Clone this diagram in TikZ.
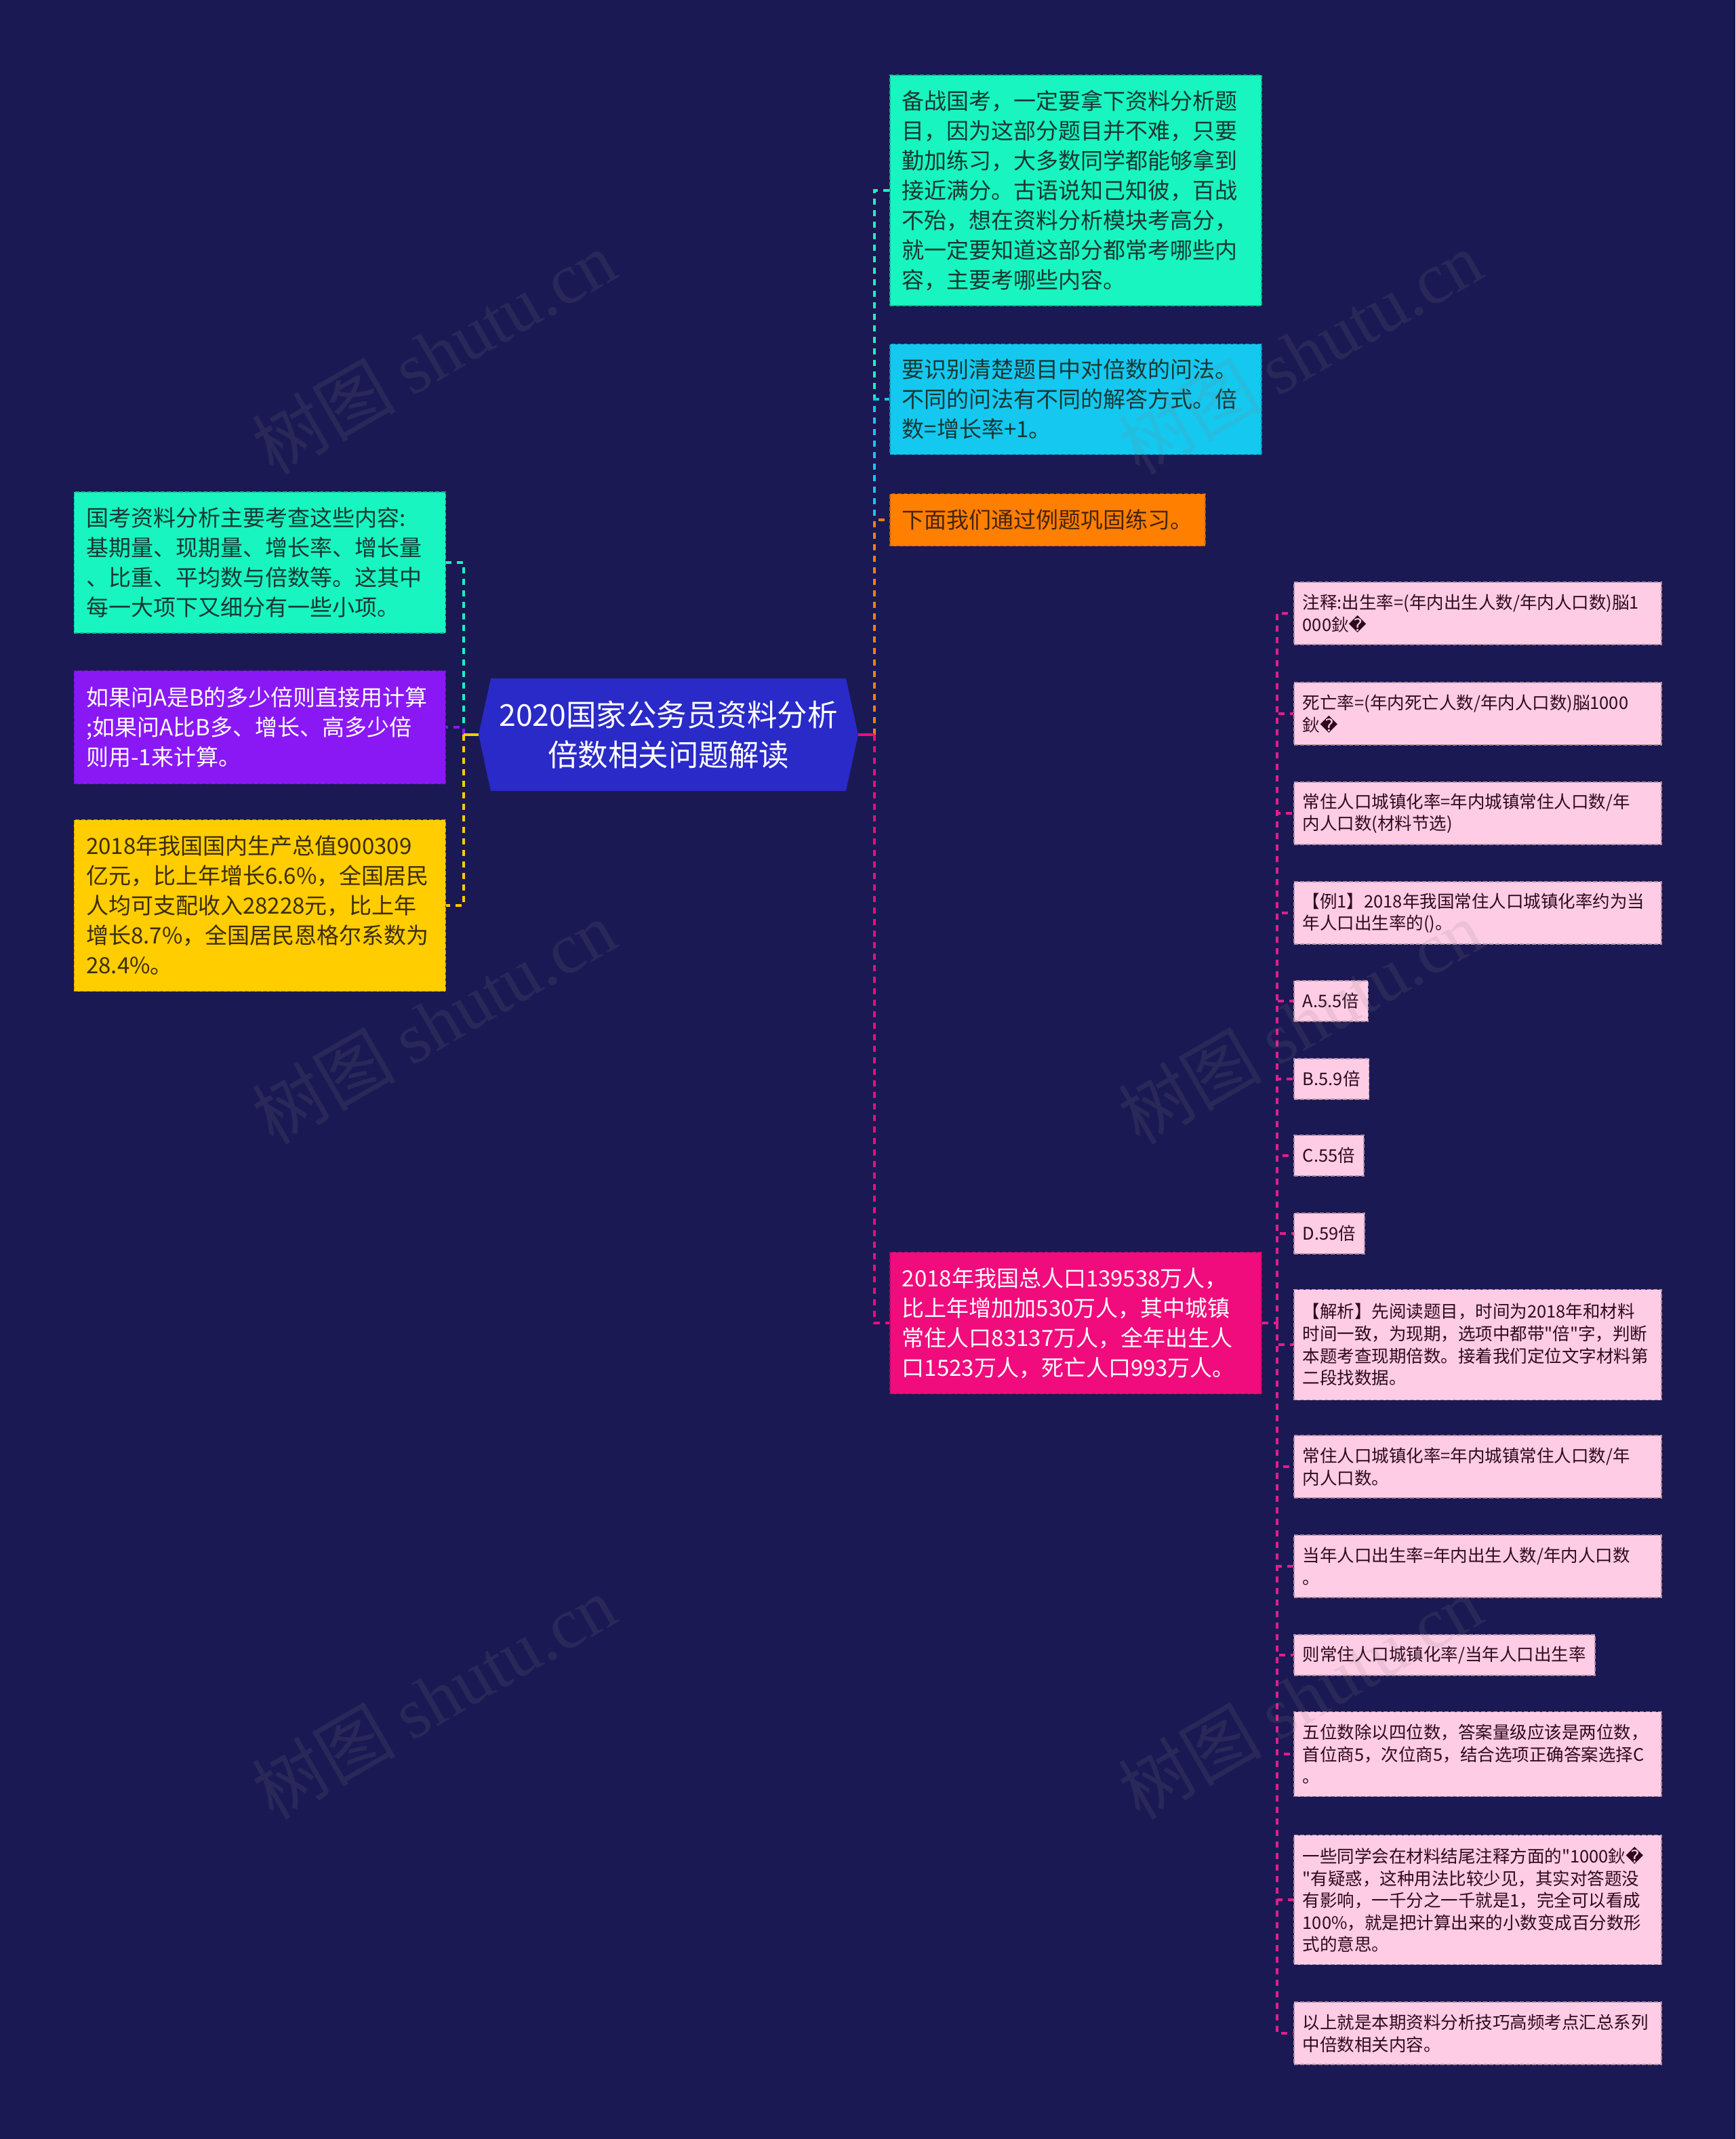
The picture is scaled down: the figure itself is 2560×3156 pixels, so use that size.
\documentclass[tikz,border=0pt]{standalone}
\usepackage{fontspec}
\setmainfont{Noto Sans CJK SC}
\newfontfamily\cjk{Noto Sans CJK SC}
\newfontfamily\dvfont{DejaVu Sans}
\newfontfamily\wmfont{Liberation Serif}
\newcommand{\rpl}{{\dvfont\char"FFFD}}
\definecolor{bg}{RGB}{27,25,83}
\definecolor{cC}{RGB}{42,42,200}
\definecolor{cG}{RGB}{24,245,192}
\definecolor{cB}{RGB}{20,200,240}
\definecolor{cO}{RGB}{255,127,0}
\definecolor{cM}{RGB}{240,12,124}
\definecolor{cP}{RGB}{138,24,245}
\definecolor{cY}{RGB}{255,205,0}
\definecolor{cS}{RGB}{255,204,229}
\definecolor{lS}{RGB}{225,30,140}
\definecolor{tG}{RGB}{25,55,50}
\definecolor{tY}{RGB}{60,45,10}
\definecolor{tO}{RGB}{70,35,10}
\definecolor{tS}{RGB}{45,10,30}
\begin{document}
\begin{tikzpicture}[x=1pt,y=-1pt,
  box/.style={draw, dash pattern=on 6pt off 3pt, line width=1.5pt, anchor=west, align=left, inner ysep=0pt},
  mainbox/.style={box, inner xsep=18pt, text width=512pt, font=\cjk\fontsize{33}{44}\selectfont},
  onebox/.style={box, inner xsep=18pt, font=\cjk\fontsize{33}{44}\selectfont},
  subbox/.style={box, inner xsep=13pt, font=\cjk\fontsize{25.5}{32.6}\selectfont, fill=cS, draw=cS!70!black, text=tS},
  subw/.style={subbox, text width=516pt},
  conn/.style={line width=3.5pt, dash pattern=on 9pt off 8pt},
  stub/.style={line width=3.5pt},
  wm/.style={text=gray, opacity=0.15, rotate=30, font=\fontsize{106}{106}\selectfont},
]
\fill[bg] (0,0) rectangle (2560,3156);
\useasboundingbox (0,0) rectangle (2560,3156);

% center
\fill[cC] (706,1084) -- (724,1001) -- (1248,1001) -- (1266,1084) -- (1248,1167) -- (724,1167) -- cycle;
\node[minimum width=560pt, minimum height=166pt, inner sep=0pt, align=center, text=white, font=\cjk\fontsize{44.5}{59}\selectfont] (c) at (986,1084) {2020国家公务员资料分析\\倍数相关问题解读};

\coordinate (rt) at (1290,1084);
\coordinate (lt) at (684,1084);
\coordinate (st) at (1884,1952);

% right main nodes
\node[mainbox, fill=cG, draw=cG!75!black, text=tG, minimum height=340pt] (r1) at (1312,281) {备战国考，一定要拿下资料分析题\\目，因为这部分题目并不难，只要\\勤加练习，大多数同学都能够拿到\\接近满分。古语说知己知彼，百战\\不殆，想在资料分析模块考高分，\\就一定要知道这部分都常考哪些内\\容，主要考哪些内容。};
\node[mainbox, fill=cB, draw=cB!75!black, text=tG, minimum height=163pt] (r2) at (1312,589) {要识别清楚题目中对倍数的问法。\\不同的问法有不同的解答方式。倍\\数=增长率+1。};
\node[onebox, fill=cO, draw=cO!75!black, text=tO, minimum height=77pt] (r3) at (1312,767) {下面我们通过例题巩固练习。};
\node[mainbox, fill=cM, draw=cM!75!black, text=white, minimum height=209pt] (r4) at (1312,1952) {2018年我国总人口139538万人，\\比上年增加加530万人，其中城镇\\常住人口83137万人，全年出生人\\口1523万人，死亡人口993万人。};

% left nodes
\node[mainbox, anchor=east, fill=cG, draw=cG!75!black, text=tG, minimum height=208pt] (l1) at (658,830) {国考资料分析主要考查这些内容:\\基期量、现期量、增长率、增长量\\、比重、平均数与倍数等。这其中\\每一大项下又细分有一些小项。};
\node[mainbox, anchor=east, fill=cP, draw=cP!75!black, text=white, minimum height=167pt] (l2) at (658,1073) {如果问A是B的多少倍则直接用计算\\;如果问A比B多、增长、高多少倍\\则用-1来计算。};
\node[mainbox, anchor=east, fill=cY, draw=cY!75!black, text=tY, minimum height=253pt] (l3) at (658,1336) {2018年我国国内生产总值900309\\亿元，比上年增长6.6\%，全国居民\\人均可支配收入28228元，比上年\\增长8.7\%，全国居民恩格尔系数为\\28.4\%。};

% sub nodes
\node[subw, minimum height=92pt] (s1) at (1908,905) {注释:出生率=(年内出生人数/年内人口数)脳1\\000鈥\rpl};
\node[subw, minimum height=92pt] (s2) at (1908,1053) {死亡率=(年内死亡人数/年内人口数)脳1000\\鈥\rpl};
\node[subw, minimum height=92pt] (s3) at (1908,1200) {常住人口城镇化率=年内城镇常住人口数/年\\内人口数(材料节选)};
\node[subw, minimum height=92pt] (s4) at (1908,1347) {【例1】2018年我国常住人口城镇化率约为当\\年人口出生率的()。};
\node[subbox, minimum height=60pt] (s5) at (1908,1477) {A.5.5倍};
\node[subbox, minimum height=60pt] (s6) at (1908,1592) {B.5.9倍};
\node[subbox, minimum height=60pt] (s7) at (1908,1705) {C.55倍};
\node[subbox, minimum height=60pt] (s8) at (1908,1820) {D.59倍};
\node[subw, minimum height=163pt] (s9) at (1908,1984) {【解析】先阅读题目，时间为2018年和材料\\时间一致，为现期，选项中都带"倍"字，判断\\本题考查现期倍数。接着我们定位文字材料第\\二段找数据。};
\node[subw, minimum height=92pt] (s10) at (1908,2164) {常住人口城镇化率=年内城镇常住人口数/年\\内人口数。};
\node[subw, minimum height=92pt] (s11) at (1908,2311) {当年人口出生率=年内出生人数/年内人口数\\。};
\node[subbox, minimum height=60pt] (s12) at (1908,2442) {则常住人口城镇化率/当年人口出生率};
\node[subw, minimum height=125pt] (s13) at (1908,2588) {五位数除以四位数，答案量级应该是两位数，\\首位商5，次位商5，结合选项正确答案选择C\\。};
\node[subw, minimum height=191pt] (s14) at (1908,2803) {一些同学会在材料结尾注释方面的"1000鈥\rpl\\"有疑惑，这种用法比较少见，其实对答题没\\有影响，一千分之一千就是1，完全可以看成\\100\%，就是把计算出来的小数变成百分数形\\式的意思。};
\node[subw, minimum height=92pt] (s15) at (1908,3000) {以上就是本期资料分析技巧高频考点汇总系列\\中倍数相关内容。};

% connectors right
\draw[conn, cG] (rt) |- (r1.west);
\draw[conn, cB] (rt) |- (r2.west);
\draw[conn, cO] (rt) |- (r3.west);
\draw[conn, cM] (rt) |- (r4.west);
\draw[stub, cM] (c.east) -- (rt);
% connectors left
\draw[conn, cG] (lt) |- (l1.east);
\draw[conn, cP] (lt) |- (l2.east);
\draw[conn, cY] (lt) |- (l3.east);
\draw[stub, cY] (c.west) -- (lt);
% sub connectors
\draw[conn, lS] (r4.east) -- (st);
\foreach \s in {s1,s2,s3,s4,s5,s6,s7,s8,s9,s10,s11,s12,s13,s14,s15}{
  \draw[conn, lS] (st) |- (\s.west);
}

% watermarks
\node[wm] (w1) at (640,520) {树图 {\wmfont shutu.cn}};
\node[wm] (w2) at (1918,520) {树图 {\wmfont shutu.cn}};
\node[wm] (w3) at (640,1508) {树图 {\wmfont shutu.cn}};
\node[wm] (w4) at (1918,1508) {树图 {\wmfont shutu.cn}};
\node[wm] (w5) at (640,2504) {树图 {\wmfont shutu.cn}};
\node[wm] (w6) at (1918,2504) {树图 {\wmfont shutu.cn}};
\end{tikzpicture}
\end{document}
